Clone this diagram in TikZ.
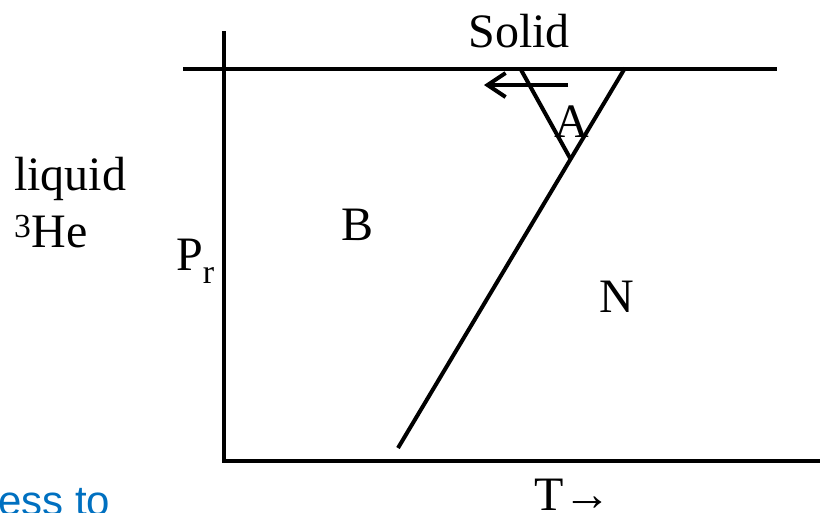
\documentclass[tikz,border=0pt]{standalone}
\usepackage{fontspec}
\setmainfont{Liberation Serif}
\newfontfamily\slidesans{Liberation Sans}
\usetikzlibrary{arrows.meta}
\definecolor{slideblue}{RGB}{0,112,192}

\begin{document}
\begin{tikzpicture}[x=1pt, y=-1pt, lbl/.style={inner sep=0pt, font=\fontsize{48}{56}\selectfont}, ln/.style={line width=4pt}, arr/.style={ln, -{Straight Barb[length=18pt, width=24pt, line width=4pt]}}]
\useasboundingbox (0,0) rectangle (820,512);
% axes and phase boundaries
\coordinate (yt) at (224,31); \coordinate (yb) at (224,463);
\coordinate (xl) at (222,461); \coordinate (xr) at (820,461);
\coordinate (sl) at (183,69); \coordinate (sr) at (777,69);
\coordinate (nb) at (398,448); \coordinate (nt) at (625,68);
\coordinate (ab) at (570,158); \coordinate (at) at (520,68);
\coordinate (ar1) at (568,85); \coordinate (ar2) at (484,85);
\draw[ln] (yt) -- (yb);
\draw[ln] (xl) -- (xr);
\draw[ln] (sl) -- (sr);
\draw[ln] (nb) -- (nt);
\draw[ln] (at) -- (ab);
\draw[arr] (ar1) -- (ar2);
% labels
\node[lbl, anchor=base] (solid) at (519,47) {Solid};
\node[lbl, anchor=base] (a) at (572,137) {A};
\node[lbl, anchor=base] (b) at (358,240) {B};
\node[lbl, anchor=base] (n) at (617,312) {N};
\node[lbl, anchor=base west] (liq) at (14,190) {liquid};
\node[lbl, anchor=base west] (he) at (14,247) {\textsuperscript{3}He};
\node[lbl, anchor=base west] (pr) at (176,270) {P\raisebox{-13pt}{\fontsize{34}{40}\selectfont r}};
\node[lbl, anchor=base west] (t) at (534,510) {T→};
\node[lbl, anchor=base west, text=slideblue, font=\fontsize{42}{48}\slidesans] (ess) at (-2,515) {ess to};
\end{tikzpicture}
\end{document}
